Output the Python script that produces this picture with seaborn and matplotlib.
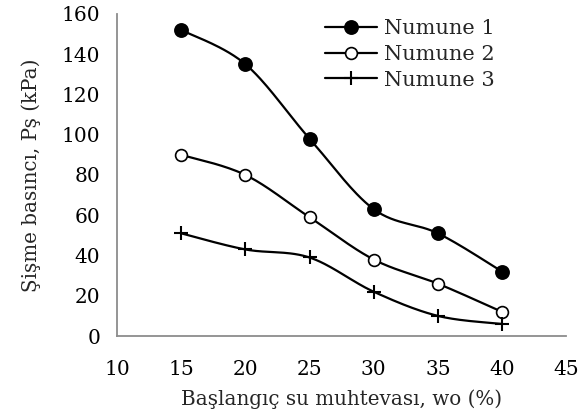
import numpy as np
import pandas as pd
import matplotlib
matplotlib.use("Agg")
import matplotlib.pyplot as plt
from matplotlib.lines import Line2D
import seaborn as sns

x_vals = [15, 20, 25, 30, 35, 40]
numune1 = [152, 135, 98, 63, 51, 32]
numune2 = [90, 80, 59, 38, 26, 12]
numune3 = [51, 43, 39, 22, 10, 6]
series_names = ["Numune 1", "Numune 2", "Numune 3"]
x_ticks = [10, 15, 20, 25, 30, 35, 40, 45]
y_ticks = [0, 20, 40, 60, 80, 100, 120, 140, 160]

sns.set_theme(style="white")
plt.rcParams['font.family'] = ['DejaVu Serif']


def smooth(xs, ys, n=30):
    # Excel-like Bezier smoothing of the drawn path through the data points
    P = np.column_stack([xs, ys]).astype(float)
    P = np.vstack([P[0], P, P[-1]])
    out = []
    for i in range(1, len(P) - 2):
        p0, p1, p2, p3 = P[i - 1], P[i], P[i + 1], P[i + 2]
        c1 = p1 + (p2 - p0) / 6.0
        c2 = p2 - (p3 - p1) / 6.0
        t = np.linspace(0, 1, n, endpoint=(i == len(P) - 3))[:, None]
        b = ((1 - t) ** 3) * p1 + 3 * ((1 - t) ** 2) * t * c1 + 3 * (1 - t) * t ** 2 * c2 + t ** 3 * p2
        out.append(b)
    out = np.vstack(out)
    return out[:, 0], out[:, 1]


fig = plt.figure(figsize=(5.88, 4.19), dpi=100)
ax = fig.add_axes([0.199, 0.198, 0.764, 0.769])

styles = [
    dict(marker="o", mfc="black", mec="black", ms=9.5, mew=1.2),
    dict(marker="o", mfc="white", mec="black", ms=8.5, mew=1.2),
    dict(marker="+", mfc="black", mec="black", ms=10, mew=1.5),
]
handles = []
for name, ys, st in zip(series_names, [numune1, numune2, numune3], styles):
    sx, sy = smooth(x_vals, ys)
    df = pd.DataFrame({"x": sx, "y": sy})
    sns.lineplot(data=df, x="x", y="y", sort=False, color="black", lw=1.6, ax=ax, estimator=None)
    ax.plot(x_vals, ys, linestyle="none", zorder=3, **st)
    handles.append(Line2D([0], [0], color="black", lw=1.6, **st))

ax.set_xlim(10, 45)
ax.set_ylim(0, 160)
ax.set_xticks(x_ticks)
ax.set_yticks(y_ticks)
ax.tick_params(axis="both", direction="out", length=5, width=1.2, labelsize=14.5, colors="black")
ax.tick_params(axis="both", color="#8c8c8c")
ax.tick_params(axis="y", pad=7)
ax.tick_params(axis="x", pad=12)
for s in ["top", "right"]:
    ax.spines[s].set_visible(False)
for s in ["left", "bottom"]:
    ax.spines[s].set_color("#8c8c8c")
    ax.spines[s].set_linewidth(1.3)
ax.set_xlabel("Başlangıç su muhtevası, wo (%)", fontsize=14.3, labelpad=8)
ax.set_ylabel("Şişme basıncı, Pş (kPa)", fontsize=14.3, labelpad=15)

leg = fig.legend(handles=handles, labels=series_names, loc="upper left",
                 bbox_to_anchor=(0.530, 0.986), frameon=False, fontsize=15,
                 handlelength=2.5, handletextpad=0.3, labelspacing=0.32, borderaxespad=0.25)

fig.savefig("out.png", dpi=100)
